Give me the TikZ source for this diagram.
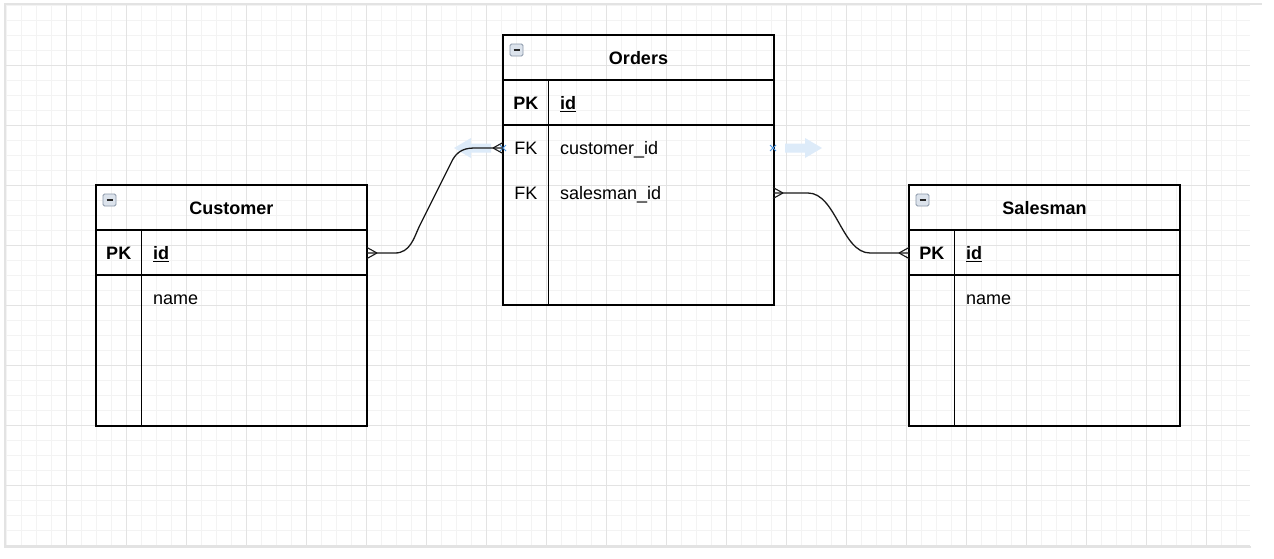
\documentclass[tikz,border=0pt]{standalone}
\usepackage{fontspec}
\setmainfont{Liberation Sans}
\usetikzlibrary{calc}
\definecolor{gminor}{HTML}{F3F3F3}
\definecolor{gmajor}{HTML}{E3E3E3}
\definecolor{hint}{HTML}{DDEBF9}
\definecolor{xblue}{HTML}{4A97E6}
\definecolor{iconfill}{HTML}{DCE3EC}
\definecolor{iconline}{HTML}{8A97A8}
\newcommand{\ertable}[5]{% name, x, y, height, title
  \node[tblbox, minimum height=#4pt, anchor=north west] (#1) at (#2,#3) {};
  \draw[tblline] ([yshift=-45pt]#1.north west) -- ([yshift=-45pt]#1.north east);
  \draw[tblline] ([yshift=-90pt]#1.north west) -- ([yshift=-90pt]#1.north east);
  \draw[tblline] ([shift={(45.5pt,-45pt)}]#1.north west) -- ([xshift=45.5pt]#1.south west);
  \node[titletext] (#1-title) at ([yshift=-29.3pt]#1.north) {#5};
  \draw[icon] ([shift={(7pt,-9pt)}]#1.north west) coordinate (#1-ic) rectangle ++(13,12);
  \draw[iconbar] ($(#1-ic)+(3.5,6)$) -- ++(6,0);
  \node[celltext, anchor=base, font=\bfseries] (#1-pk) at ([shift={(22.75pt,-74.3pt)}]#1.north west) {PK};
  \node[celltext, anchor=base west, font=\bfseries] (#1-id) at ([shift={(57pt,-74.3pt)}]#1.north west) {\underline{id}};
}
\begin{document}
\begin{tikzpicture}[x=1pt,y=-1pt,
  tblbox/.style={draw=black, line width=1.3pt, minimum width=271pt, inner sep=0pt, outer sep=0pt},
  tblline/.style={draw=black, line width=1.3pt},
  titletext/.style={inner sep=0pt, anchor=base, font=\fontsize{18}{20}\selectfont\bfseries},
  celltext/.style={inner sep=0pt},
  icon/.style={draw=iconline, fill=iconfill, line width=0.8pt, rounded corners=1.5pt},
  iconbar/.style={draw=black!85, line width=1.6pt},
  conn/.style={draw=black!90, line width=1.3pt},
  crow/.style={draw=black!90, line width=1.1pt},
  hintarrow/.style={fill=hint, draw=none},
  xmark/.style={draw=xblue, line width=0.8pt}
  ]
\useasboundingbox (0,0) rectangle (1274,558);
\fill[white] (0,0) rectangle (1274,558);
% grid
\foreach \x in {6,21,...,1250} \draw[gminor, line width=1pt] (\x,5) -- (\x,547);
\foreach \y in {5,20,...,547} \draw[gminor, line width=1pt] (5,\y) -- (1250,\y);
\foreach \x in {66,126,...,1250} \draw[gmajor, line width=1pt] (\x,5) -- (\x,547);
\foreach \y in {65,125,...,547} \draw[gmajor, line width=1pt] (5,\y) -- (1250,\y);
\draw[gmajor, line width=1.5pt] (1251,547) -- (5,547) -- (5,4) -- (1262,4);

\begingroup
\fontsize{18}{20}\selectfont
% tables
\ertable{cust}{96}{185}{241}{Customer}
\ertable{ord}{503}{35}{270}{Orders}
\ertable{sale}{909}{185}{241}{Salesman}

\node[celltext, anchor=base west] (cust-name) at (153,304.8) {name};
\node[celltext, anchor=base west] (sale-name) at (966,304.8) {name};
\node[celltext, anchor=base] (ord-fk1) at (525.75,154.8) {FK};
\node[celltext, anchor=base west] (ord-cid) at (560,154.8) {customer\_id};
\node[celltext, anchor=base] (ord-fk2) at (525.75,199.8) {FK};
\node[celltext, anchor=base west] (ord-sid) at (560,199.8) {salesman\_id};
\endgroup

% hint arrows
\fill[hintarrow] (785,143.5) -- (805,143.5) -- (805,138) -- (822,148) -- (805,158) -- (805,152.5) -- (785,152.5) -- cycle;
\fill[hintarrow] (491,143.5) -- (471,143.5) -- (471,138) -- (454,148) -- (471,158) -- (471,152.5) -- (491,152.5) -- cycle;

% connection points
\coordinate (c1a) at (367,253);
\coordinate (c1b) at (503,148);
\coordinate (c2a) at (773,193);
\coordinate (c2b) at (909,253);
\coordinate (xr) at (773,148);

\draw[xmark] ($(xr)+(-3,-3)$) -- ($(xr)+(3,3)$) ($(xr)+(-3,3)$) -- ($(xr)+(3,-3)$);
\draw[xmark] ($(c1b)+(-3,-3)$) -- ($(c1b)+(3,3)$) ($(c1b)+(-3,3)$) -- ($(c1b)+(3,-3)$);

% connectors
\draw[conn] (c1a) -- (395,253) .. controls (410,253) and (414,238) .. (419,227) -- (451,163) .. controls (455,154) and (461,148) .. (474,148) -- (c1b);
\draw[conn] (c2a) -- (808,193) .. controls (836,193) and (842,253) .. (870,253) -- (c2b);

% crow's feet
\draw[crow] ($(c1a)+(10,0)$) -- ++(-10,-5.5) ($(c1a)+(10,0)$) -- ++(-10,5.5);
\draw[crow] ($(c1b)+(-10,0)$) -- ++(10,-5.5) ($(c1b)+(-10,0)$) -- ++(10,5.5);
\draw[crow] ($(c2a)+(10,0)$) -- ++(-10,-5.5) ($(c2a)+(10,0)$) -- ++(-10,5.5);
\draw[crow] ($(c2b)+(-10,0)$) -- ++(10,-5.5) ($(c2b)+(-10,0)$) -- ++(10,5.5);
\end{tikzpicture}
\end{document}
